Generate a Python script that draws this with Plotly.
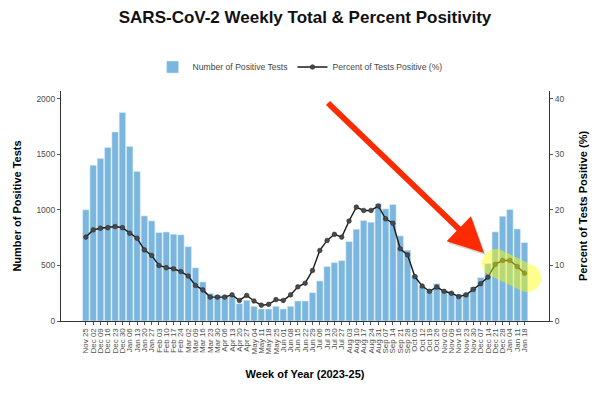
import numpy as np
import plotly.graph_objects as go

weeks = ["Nov 25", "Dec 02", "Dec 09", "Dec 16", "Dec 23", "Dec 30", "Jan 06", "Jan 13", "Jan 20", "Jan 27",
         "Feb 03", "Feb 10", "Feb 17", "Feb 24", "Mar 02", "Mar 09", "Mar 16", "Mar 23", "Mar 30", "Apr 06",
         "Apr 13", "Apr 20", "Apr 27", "May 04", "May 11", "May 18", "May 25", "Jun 01", "Jun 08", "Jun 15",
         "Jun 22", "Jun 29", "Jul 06", "Jul 13", "Jul 20", "Jul 27", "Aug 03", "Aug 10", "Aug 17", "Aug 24",
         "Aug 31", "Sep 07", "Sep 14", "Sep 21", "Sep 28", "Oct 05", "Oct 12", "Oct 19", "Oct 26", "Nov 02",
         "Nov 09", "Nov 16", "Nov 23", "Nov 30", "Dec 07", "Dec 14", "Dec 21", "Dec 28", "Jan 04", "Jan 11",
         "Jan 18"]

positive_tests = [1000, 1400, 1460, 1560, 1700, 1875, 1570, 1345, 945, 900,
                  795, 800, 780, 775, 668, 478, 351, 248, 234, 234,
                  216, 156, 186, 132, 108, 108, 132, 108, 132, 180,
                  180, 255, 360, 489, 525, 543, 714, 825, 903, 888,
                  1056, 1008, 1047, 765, 636, 411, 312, 276, 336, 276,
                  261, 240, 252, 306, 390, 516, 801, 942, 1002, 828,
                  705]

percent_positive = [15.1, 16.4, 16.7, 16.8, 17.0, 16.8, 15.8, 14.9, 12.8, 11.8,
                    10.0, 9.6, 9.4, 8.9, 8.1, 6.4, 5.6, 4.3, 4.3, 4.3,
                    4.7, 3.7, 4.6, 3.6, 2.85, 3.0, 3.85, 3.7, 4.7, 6.15,
                    6.8, 9.1, 12.7, 14.5, 15.6, 15.1, 18.0, 20.5, 19.9, 19.9,
                    20.7, 18.4, 17.6, 13.0, 11.9, 8.0, 6.3, 5.35, 6.1, 5.35,
                    5.0, 4.4, 4.7, 5.7, 6.7, 7.9, 10.2, 10.9, 10.9, 9.8,
                    8.6]

left_ticks = [0, 500, 1000, 1500, 2000]
right_ticks = [0, 10, 20, 30, 40]

W, H = 600, 396
ML, MR, MT, MB = 61, 51, 91, 75
PW, PH = W - ML - MR, H - MT - MB


def px(x):
    return (x - ML) / PW


def py(y):
    return (H - MB - y) / PH


def poly_path(pts):
    s = "M{:.5f},{:.5f}".format(px(pts[0][0]), py(pts[0][1]))
    for (a, b) in pts[1:]:
        s += " L{:.5f},{:.5f}".format(px(a), py(b))
    return s + " Z"


# arrow decoration (pixel geometry)
start = np.array([328.0, 103.0])
tip = np.array([484.0, 253.0])
u = (tip - start) / np.linalg.norm(tip - start)
n = np.array([-u[1], u[0]])
base = tip - 35 * u
hw, hh = 2.9, 17.5
arrow_pts = [start + hw * n, base + hw * n, base + hh * n, tip, base - hh * n, base - hw * n, start - hw * n]
shadow_pts = [p + np.array([1.5, 2.0]) for p in arrow_pts]

# capsule highlight
c1 = np.array([496.0, 263.0])
c2 = np.array([527.0, 278.0])
r = 14.0
d = (c2 - c1) / np.linalg.norm(c2 - c1)
ang0 = np.arctan2(d[1], d[0])
cap = []
for t in np.linspace(-np.pi / 2, np.pi / 2, 24):
    cap.append(c2 + r * np.array([np.cos(ang0 + t), np.sin(ang0 + t)]))
for t in np.linspace(np.pi / 2, 3 * np.pi / 2, 24):
    cap.append(c1 + r * np.array([np.cos(ang0 + t), np.sin(ang0 + t)]))

fig = go.Figure()
fig.add_trace(go.Bar(
    x=weeks, y=positive_tests, name="Number of Positive Tests",
    marker=dict(color="rgb(122,182,222)", line=dict(color="rgba(220,236,248,0.9)", width=0.6)),
    yaxis="y",
))
fig.add_trace(go.Scatter(
    x=weeks, y=percent_positive, name="Percent of Tests Positive (%)",
    mode="lines+markers",
    line=dict(color="#1a1a1a", width=1.4),
    marker=dict(color="#4a4a4a", size=4.6, line=dict(color="#2a2a2a", width=0.6)),
    yaxis="y2",
))

axis_font = dict(family="Liberation Sans, Arial, sans-serif", size=8.5, color="#4d4d4d")
xtick_font = dict(family="Liberation Sans, Arial, sans-serif", size=8, color="#4d4d4d")
title_font = dict(family="Liberation Sans, Arial, sans-serif", size=11, color="#000000")

fig.update_layout(
    width=W, height=H,
    margin=dict(l=ML, r=MR, t=MT, b=MB, pad=0, autoexpand=False),
    paper_bgcolor="white", plot_bgcolor="white",
    bargap=0.12,
    font=dict(family="Liberation Sans, Arial, sans-serif"),
    title=dict(text="<b>SARS-CoV-2 Weekly Total & Percent Positivity</b>",
               x=0.5, xref="paper", xanchor="center", y=1 - 17 / H, yanchor="middle",
               font=dict(family="Liberation Sans, Arial, sans-serif", size=17, color="#111111")),
    showlegend=True,
    legend=dict(orientation="h", x=0.49, xanchor="center", y=py(67), yanchor="middle",
                font=dict(family="Liberation Sans, Arial, sans-serif", size=8.6, color="#444444"),
                bgcolor="rgba(0,0,0,0)", itemwidth=30),
    xaxis=dict(type="category", range=[-3.4, 63.35], showline=True, linecolor="#333333", linewidth=1,
               tickmode="array", tickvals=weeks, ticktext=weeks, automargin=False,
               ticks="outside", ticklen=3, tickcolor="#555555", tickangle=-90, tickfont=xtick_font,
               showgrid=False, zeroline=False,
               title=dict(text="<b>Week of Year (2023-25)</b>", font=title_font, standoff=16)),
    yaxis=dict(range=[0, 2068], tickvals=left_ticks, showline=True, linecolor="#333333", linewidth=1,
               ticks="outside", ticklen=3, tickcolor="#555555", tickfont=axis_font, automargin=False,
               showgrid=False, zeroline=False,
               title=dict(text="<b>Number of Positive Tests</b>", font=title_font, standoff=12)),
    yaxis2=dict(range=[0, 41.4], tickvals=right_ticks, overlaying="y", side="right",
                showline=True, linecolor="#333333", linewidth=1, automargin=False,
                ticks="outside", ticklen=3, tickcolor="#555555", tickfont=axis_font,
                showgrid=False, zeroline=False,
                title=dict(text="<b>Percent of Tests Positive (%)</b>", font=title_font, standoff=15)),
    shapes=[
        dict(type="path", xref="paper", yref="paper", path=poly_path(shadow_pts),
             fillcolor="rgba(0,0,0,0.18)", line=dict(width=0), layer="above"),
        dict(type="path", xref="paper", yref="paper", path=poly_path(arrow_pts),
             fillcolor="#ff2a00", line=dict(width=0), layer="above"),
        dict(type="path", xref="paper", yref="paper", path=poly_path(cap),
             fillcolor="rgba(255,255,0,0.45)", line=dict(width=0), layer="above"),
    ],
)

fig.write_html("out.html", config={"displayModeBar": False},
               post_script="document.body.style.margin='0';document.body.style.padding='0';")
